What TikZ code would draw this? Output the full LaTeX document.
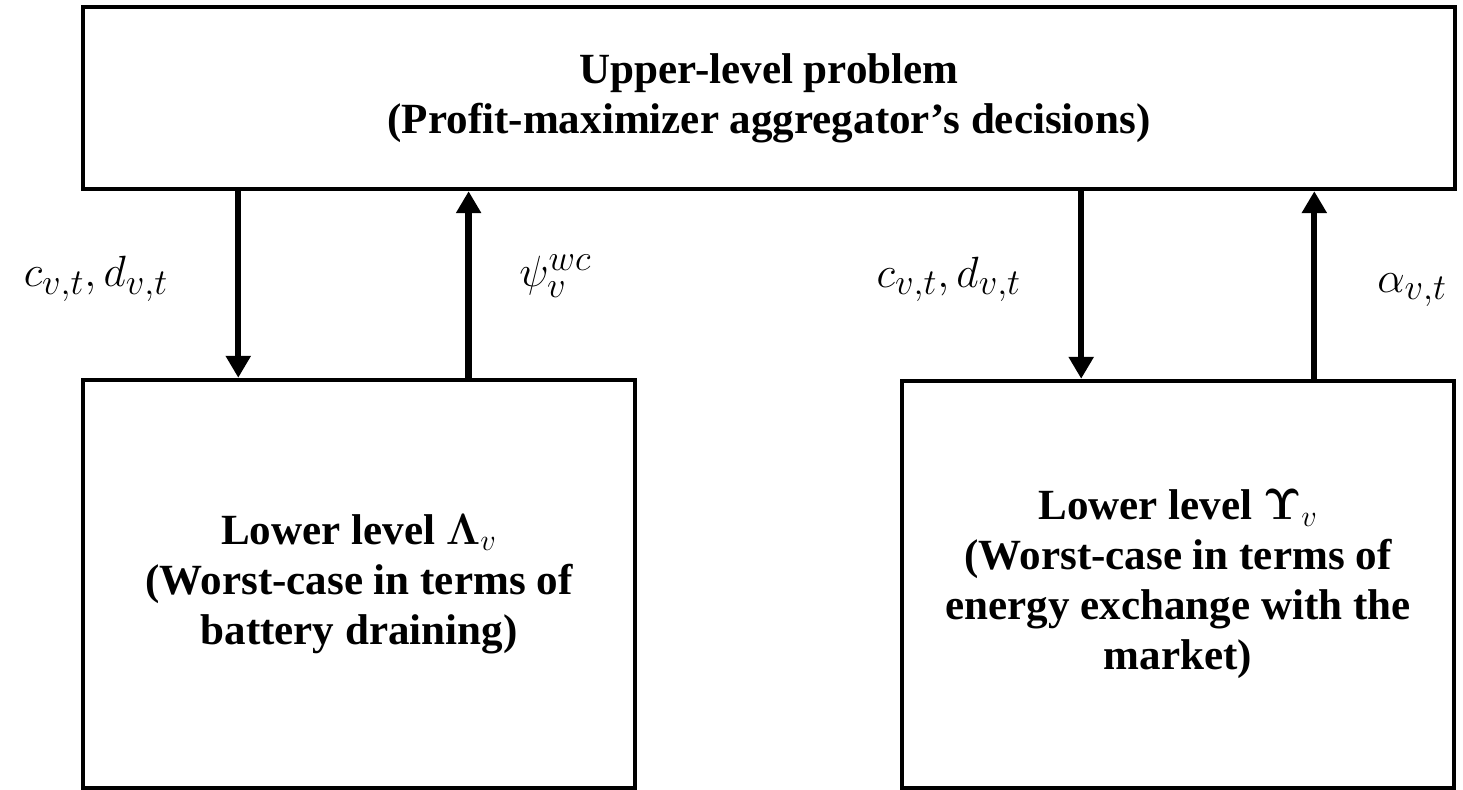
\documentclass[tikz,border=0pt]{standalone}
\usepackage[no-math]{fontspec}
\setmainfont{Liberation Serif}
\usetikzlibrary{arrows.meta,calc}

\begin{document}
\begin{tikzpicture}[>={Triangle[width=4.8mm, length=4.4mm]}, box/.style={draw, line width=2.5pt, align=center, inner sep=0pt, font=\fontsize{24.5}{28.45}\selectfont\bfseries}, flow/.style={->, line width=3.6pt}, lab/.style={font=\fontsize{30}{34}\selectfont, inner sep=0pt}]
	\useasboundingbox (0,0) rectangle (29.26,15.8);
	\node[box, minimum width=27.44cm, minimum height=3.64cm] (upper) at (15.38,13.84) {Upper-level problem\\(Profit-maximizer aggregator’s decisions)};
	\node[box, minimum width=11.04cm, minimum height=8.16cm] (lowL) at (7.18,4.12) {Lower level $\mathbf{\Lambda}_{v}$\\(Worst-case in terms of\\battery draining)};
	\node[box, minimum width=11.04cm, minimum height=8.14cm] (lowR) at (23.56,4.11) {Lower level $\mathbf{\Upsilon}_{v}$\\(Worst-case in terms of\\energy exchange with the\\market)};
	% arrow feet on the lower boxes
	\coordinate (dL) at ($(lowL.north west)!0.283!(lowL.north east)$);
	\coordinate (uL) at ($(lowL.north west)!0.697!(lowL.north east)$);
	\coordinate (dR) at ($(lowR.north west)!0.326!(lowR.north east)$);
	\coordinate (uR) at ($(lowR.north west)!0.745!(lowR.north east)$);
	\draw[flow] (upper.south -| dL) -- (dL) node[lab, pos=0.513, anchor=base east, xshift=-1.34cm] (cdL) {$c_{v,t}, d_{v,t}$};
	\draw[flow] (uL) -- (upper.south -| uL) node[lab, pos=0.49, anchor=base west, xshift=0.95cm] (psiL) {$\psi_{v}^{wc}$};
	\draw[flow] (upper.south -| dR) -- (dR) node[lab, pos=0.513, anchor=base east, xshift=-1.14cm] (cdR) {$c_{v,t}, d_{v,t}$};
	\draw[flow] (uR) -- (upper.south -| uR) node[lab, pos=0.46, anchor=base west, xshift=1.2cm] (alR) {$\alpha_{v,t}$};
\end{tikzpicture}
\end{document}
